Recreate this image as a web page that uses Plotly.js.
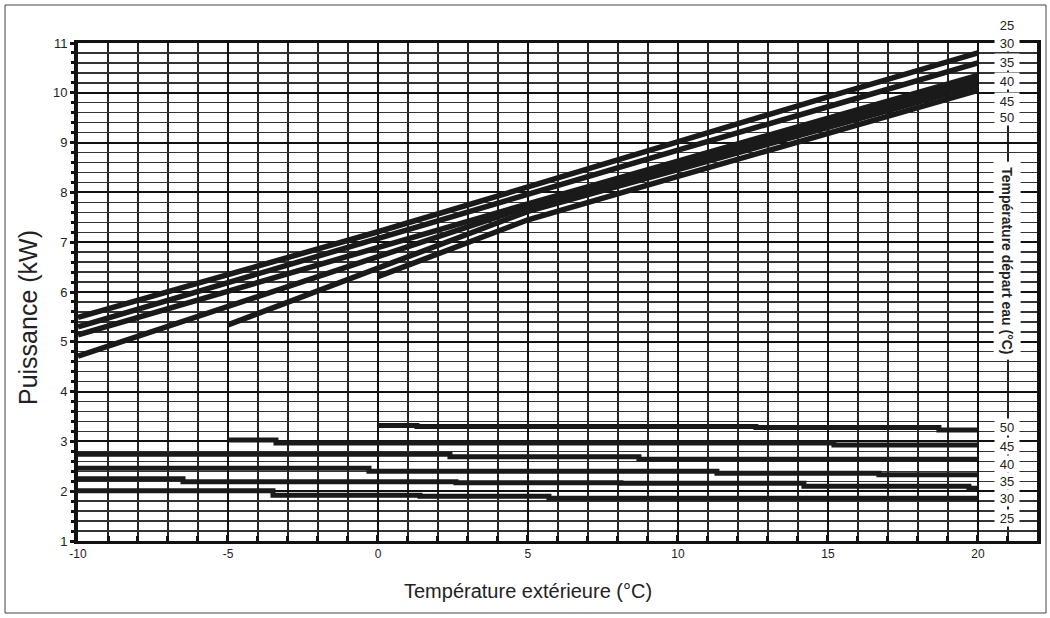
<!DOCTYPE html>
<html>
<head>
<meta charset="utf-8">
<script src="https://cdn.plot.ly/plotly-3.0.1.min.js"></script>
<style>
  html, body { margin: 0; padding: 0; background: #fff; }
  #chart { width: 1050px; height: 618px; }
</style>
</head>
<body>
<div id="chart"></div>
<script>
// ---- Data ----
const waterTemps = ['25', '30', '35', '40', '45', '50'];

// Heating capacity curves (upper group), outdoor temperature points
const capX = [-10, -5, 0, 5, 10, 15, 20];
const cap25 = [5.49, 6.35, 7.21, 8.11, 9.02, 9.92, 10.80];
const cap30 = [5.30, 6.19, 7.08, 7.96, 8.85, 9.72, 10.60];
const cap35 = [5.14, 6.02, 6.91, 7.77, 8.63, 9.49, 10.35];
const cap40 = [4.71, 5.70, 6.71, 7.71, 8.55, 9.40, 10.25];
const cap45 = [null, 5.34, 6.48, 7.62, 8.46, 9.30, 10.15];
const cap50 = [null, null, 6.31, 7.45, 8.32, 9.18, 10.05];

// Absorbed power step curves (lower group)
const pow50x = [0, 1.3, 12.6, 18.7, 20];
const pow50y = [3.32, 3.30, 3.28, 3.23, 3.23];
const pow45x = [-5, -3.4, 15.2, 20];
const pow45y = [3.03, 2.97, 2.93, 2.93];
const pow40x = [-10, 2.4, 8.7, 20];
const pow40y = [2.74, 2.69, 2.64, 2.64];
const pow35x = [-10, -0.3, 11.3, 16.7, 20];
const pow35y = [2.46, 2.40, 2.36, 2.33, 2.33];
const pow30x = [-10, -6.5, 2.6, 8.1, 14.2, 19.7, 20];
const pow30y = [2.25, 2.19, 2.17, 2.16, 2.10, 2.06, 2.06];
const pow25x = [-10, -3.5, 1.4, 5.7, 20];
const pow25y = [2.01, 1.92, 1.90, 1.86, 1.86];

// Tick labels
const xTicks = [-10, -5, 0, 5, 10, 15, 20];
const yTicks = [1, 2, 3, 4, 5, 6, 7, 8, 9, 10, 11];

// Right-hand label texts
const topLabels = ['25', '30', '35', '40', '45', '50'];
const bottomLabels = ['50', '45', '40', '35', '30', '25'];

// ---- Styling / layout ----
const FONT = 'Liberation Sans Narrow, "Arial Narrow", "Liberation Sans", Arial, sans-serif';
const capSeries = [cap25, cap30, cap35, cap40, cap45, cap50];
const powSeries = [
  [pow25x, pow25y], [pow30x, pow30y], [pow35x, pow35y],
  [pow40x, pow40y], [pow45x, pow45y], [pow50x, pow50y]
];

const traces = [];
capSeries.forEach((ys, i) => {
  traces.push({
    x: capX, y: ys, type: 'scatter', mode: 'lines',
    name: 'Puissance ' + waterTemps[i] + ' °C',
    line: { color: '#1a1a1a', width: 5.5 },
    connectgaps: false, showlegend: false, hoverinfo: 'x+y+name'
  });
});
powSeries.forEach((s, i) => {
  traces.push({
    x: s[0], y: s[1], type: 'scatter', mode: 'lines',
    name: 'Absorbée ' + waterTemps[i] + ' °C',
    line: { color: '#1a1a1a', width: 5, shape: 'hv' },
    showlegend: false, hoverinfo: 'x+y+name'
  });
});

const labelX = 20.97;
// paper-y positions of the right-hand labels
const topLabelPY = [1.036, 1.0, 0.962, 0.924, 0.884, 0.851];
const bottomLabelPY = [0.229, 0.191, 0.155, 0.120, 0.086, 0.046];

const labelFont = { family: FONT, size: 13, color: '#222' };
const annotations = [];
topLabels.forEach((t, i) => annotations.push({
  x: labelX, y: topLabelPY[i], xref: 'x', yref: 'paper', text: t, showarrow: false,
  font: labelFont, bgcolor: '#ffffff', borderpad: 1, width: 22, height: 14,
  xanchor: 'center', yanchor: 'middle'
}));
bottomLabels.forEach((t, i) => annotations.push({
  x: labelX, y: bottomLabelPY[i], xref: 'x', yref: 'paper', text: t, showarrow: false,
  font: labelFont, bgcolor: '#ffffff', borderpad: 1, width: 22, height: 14,
  xanchor: 'center', yanchor: 'middle'
}));
annotations.push({
  x: labelX, y: 0.564, xref: 'x', yref: 'paper', text: '<b>Température départ eau (°C)</b>',
  textangle: 90, showarrow: false,
  font: { family: FONT, size: 14, color: '#222' }, bgcolor: '#ffffff', borderpad: 5,
  xanchor: 'center', yanchor: 'middle'
});
// axis titles placed as in the reference
annotations.push({
  x: 5, y: -0.1, xref: 'x', yref: 'paper', text: 'Température extérieure (°C)',
  showarrow: false, font: { family: FONT, size: 20, color: '#222' },
  xanchor: 'center', yanchor: 'middle'
});
annotations.push({
  x: -0.052, y: 0.448, xref: 'paper', yref: 'paper', text: 'Puissance (kW)',
  textangle: -90, showarrow: false, font: { family: FONT, size: 25, color: '#222' },
  xanchor: 'center', yanchor: 'middle'
});

const layout = {
  width: 1050, height: 618,
  margin: { l: 78, r: 13, t: 43, b: 77 },
  paper_bgcolor: '#ffffff', plot_bgcolor: '#ffffff',
  showlegend: false,
  font: { family: FONT, color: '#222' },
  xaxis: {
    range: [-10, 21.97], tickmode: 'array', tickvals: xTicks,
    ticktext: xTicks.map(String),
    showgrid: true, gridcolor: '#111', gridwidth: 2,
    minor: { dtick: 1, showgrid: true, gridcolor: '#222', gridwidth: 1.6,
             ticks: 'inside', ticklen: 5, tickwidth: 3, tickcolor: '#111' },
    ticks: 'inside', ticklen: 6, tickwidth: 3, tickcolor: '#111',
    showline: true, linecolor: '#111', linewidth: 3, mirror: true,
    zeroline: false,
    tickfont: { family: FONT, size: 12, color: '#222' }
  },
  yaxis: {
    range: [1, 11], tickmode: 'array', tickvals: yTicks,
    ticktext: yTicks.map(String),
    showgrid: true, gridcolor: '#111', gridwidth: 2,
    minor: { dtick: 0.2, showgrid: true, gridcolor: '#333', gridwidth: 1.4,
             ticks: 'outside', ticklen: 3, tickwidth: 3, tickcolor: '#111' },
    ticks: 'outside', ticklen: 4, tickwidth: 3, tickcolor: '#111',
    showline: true, linecolor: '#111', linewidth: 4, mirror: true,
    zeroline: false,
    tickfont: { family: FONT, size: 13, color: '#222' }
  },
  annotations: annotations,
  shapes: [{
    type: 'rect', xref: 'paper', yref: 'paper',
    x0: -0.0761, x1: 1.0094, y0: -0.1446, y1: 1.0763,
    line: { color: '#444', width: 1 }, fillcolor: 'rgba(0,0,0,0)', layer: 'below'
  }]
};

Plotly.newPlot('chart', traces, layout, { displayModeBar: false, staticPlot: true });
</script>
</body>
</html>
